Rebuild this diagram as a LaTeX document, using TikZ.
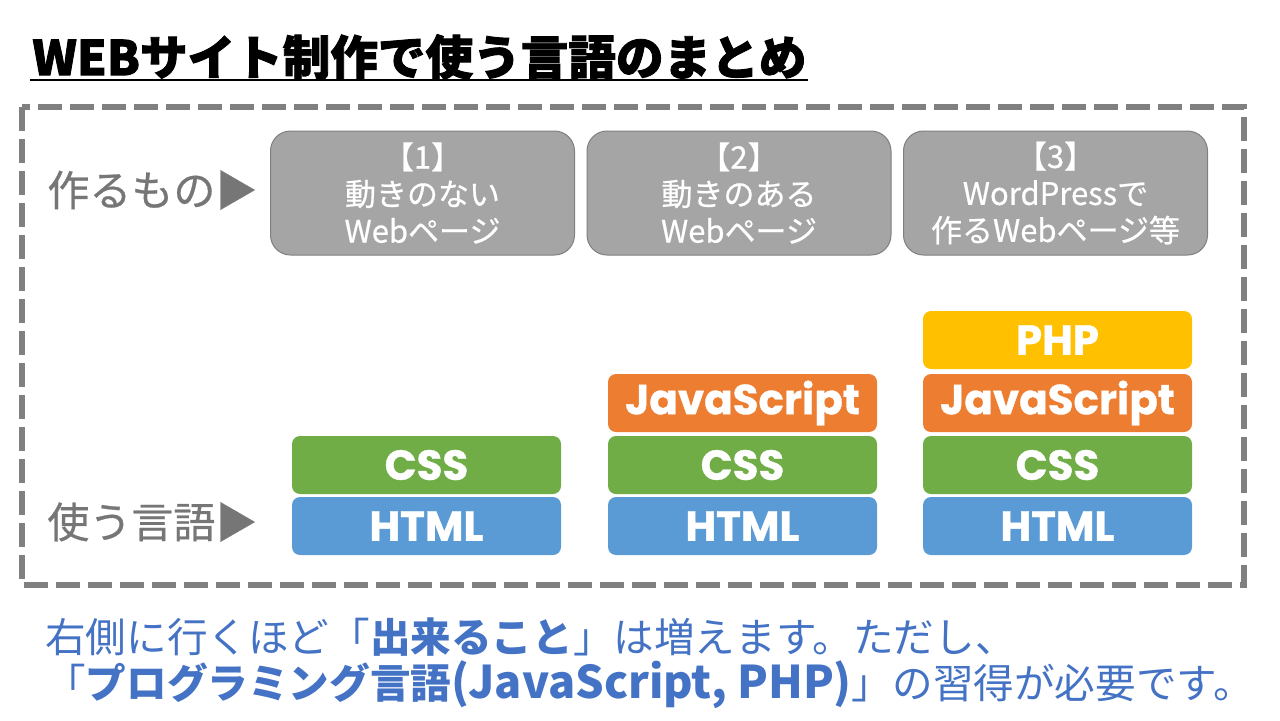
\documentclass[tikz,border=0pt]{standalone}
\usepackage{fontspec}
\setmainfont{Noto Sans CJK JP}
\newfontfamily\jp{Noto Sans CJK JP}
\newfontfamily\jpmed[FakeBold=0.6]{Noto Sans CJK JP}
\newfontfamily\jptitle[BoldFeatures={FakeBold=1.8}]{Noto Sans CJK JP}
\newfontfamily\pop[BoldFeatures={FakeBold=0.8}]{Poppins}
\definecolor{boxgray}{HTML}{A5A5A5}
\definecolor{boxedge}{HTML}{7F7F7F}
\definecolor{labgray}{HTML}{767676}
\definecolor{dashgray}{HTML}{808080}
\definecolor{chtml}{HTML}{5B9BD5}
\definecolor{ccss}{HTML}{70AD47}
\definecolor{cjs}{HTML}{ED7D31}
\definecolor{cphp}{HTML}{FFC000}
\definecolor{cblue}{HTML}{4472C4}
\tikzset{
  graybox/.style={rounded corners=10pt, fill=boxgray, draw=boxedge, line width=0.5pt,
    minimum width=152pt, minimum height=62pt, text=white, align=center, inner sep=0pt,
    font=\jpmed\fontsize{15.5}{18.5}\selectfont},
  langbox/.style={rounded corners=4pt, minimum width=134.5pt, minimum height=29pt,
    text=white, inner sep=0pt, font=\pop\bfseries\fontsize{21}{24}\selectfont},
  sidelabel/.style={anchor=west, text=labgray, inner sep=0pt, font=\jpmed\fontsize{21}{24}\selectfont},
  bottomline/.style={anchor=west, text=cblue, inner sep=0pt, font=\jp\fontsize{20.3}{24}\selectfont},
}
\begin{document}
\begin{tikzpicture}[x=0.5pt,y=-0.5pt]
\useasboundingbox (0,0) rectangle (1280,720);
% title
\node[anchor=west, inner sep=0pt, font=\jptitle\bfseries\fontsize{23.8}{28}\selectfont] (title) at (32,57) {WEBサイト制作で使う言語のまとめ};
\coordinate (ulL) at (30,80);
\coordinate (ulR) at (808,80);
\draw[line width=1.2pt] (ulL) -- (ulR);
% dashed frame
\coordinate (frA) at (22,107);
\coordinate (frB) at (1244,585);
\draw[dashgray, line width=3pt, dash pattern=on 12pt off 4pt] (frA) rectangle (frB);
% side labels
\node[sidelabel] (make) at (47,190) {作るもの▶};
\node[sidelabel] (use) at (47,522) {使う言語▶};
% gray boxes
\node[graybox] (g1) at (422.5,193) {【1】\\動きのない\\Webページ};
\node[graybox] (g2) at (739,193) {【2】\\動きのある\\Webページ};
\node[graybox] (g3) at (1055.5,193) {【3】\\WordPressで\\作るWebページ等};
% language stacks
\node[langbox, fill=chtml] (h1) at (426.5,526) {HTML};
\node[langbox, fill=ccss] (c1) at (426.5,465) {CSS};
\node[langbox, fill=chtml] (h2) at (742.5,526) {HTML};
\node[langbox, fill=ccss] (c2) at (742.5,465) {CSS};
\node[langbox, fill=cjs] (j2) at (742.5,403) {JavaScript};
\node[langbox, fill=chtml] (h3) at (1057.5,526) {HTML};
\node[langbox, fill=ccss] (c3) at (1057.5,465) {CSS};
\node[langbox, fill=cjs] (j3) at (1057.5,403) {JavaScript};
\node[langbox, fill=cphp] (p3) at (1057.5,340) {PHP};
% bottom text
\node[bottomline] (b1) at (45,637) {右側に行くほど「\textbf{出来ること}」は増えます。ただし、};
\node[bottomline] (b2) at (45,685) {「\textbf{プログラミング言語{\fontsize{22.5}{24}\selectfont(JavaScript, PHP)}}」の習得が必要です。};
\end{tikzpicture}
\end{document}
